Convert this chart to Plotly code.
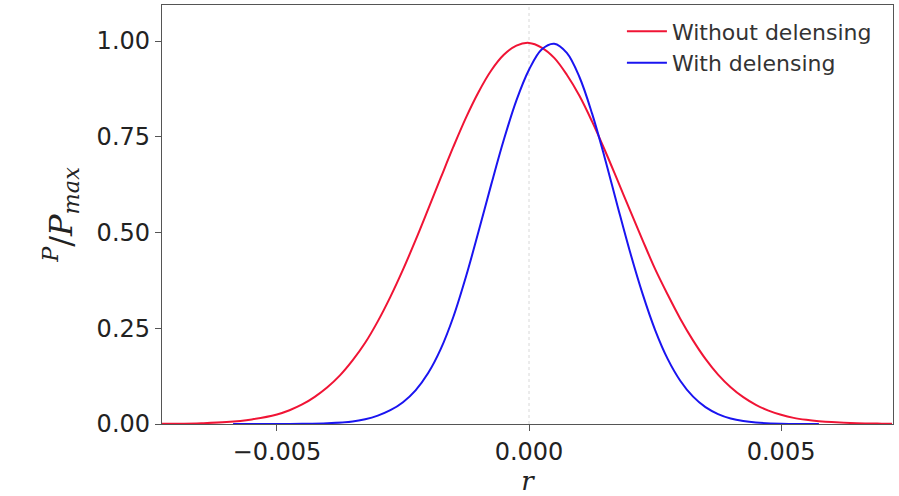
import plotly.graph_objects as go

# Normalised likelihood of the tensor-to-scalar ratio r
r_without = [-0.0073, -0.0070, -0.0065, -0.0060, -0.0055, -0.0050, -0.00475, -0.0045,
             -0.00425, -0.0040, -0.00375, -0.0035, -0.00325, -0.0030, -0.00275, -0.0025,
             -0.00225, -0.0020, -0.00175, -0.0015, -0.00125, -0.0010, -0.00075, -0.0005,
             -0.00025, 0.0000, 0.00025, 0.0005, 0.00075, 0.0010, 0.00125, 0.0015,
             0.00175, 0.0020, 0.00225, 0.0025, 0.00275, 0.0030, 0.00325, 0.0035,
             0.00375, 0.0040, 0.00425, 0.0045, 0.00475, 0.0050, 0.00525, 0.0055,
             0.00575, 0.0060, 0.0065, 0.0070, 0.0072]
p_without = [0.0004, 0.0007, 0.002, 0.005, 0.012, 0.025, 0.036, 0.051,
             0.071, 0.096, 0.127, 0.166, 0.212, 0.268, 0.332, 0.403,
             0.480, 0.561, 0.643, 0.724, 0.800, 0.867, 0.923, 0.964,
             0.988, 0.995, 0.983, 0.956, 0.912, 0.857, 0.790, 0.716,
             0.638, 0.559, 0.481, 0.405, 0.338, 0.275, 0.219, 0.170,
             0.129, 0.096, 0.070, 0.050, 0.035, 0.024, 0.016, 0.011,
             0.0075, 0.005, 0.002, 0.0009, 0.0006]

r_with = [-0.00587, -0.0055, -0.0050, -0.0045, -0.0040, -0.0035, -0.00325, -0.0030,
          -0.00275, -0.0025, -0.00225, -0.0020, -0.00175, -0.0015, -0.00125, -0.0010,
          -0.00075, -0.0005, -0.00025, 0.0000, 0.00025, 0.0005, 0.00075, 0.0010,
          0.00125, 0.0015, 0.00175, 0.0020, 0.00225, 0.0025, 0.00275, 0.0030,
          0.00325, 0.0035, 0.00375, 0.0040, 0.00425, 0.0045, 0.0050, 0.0055, 0.00575]
p_with = [0.0, 0.00002, 0.0001, 0.0005, 0.002, 0.0065, 0.0125, 0.022,
          0.036, 0.057, 0.088, 0.133, 0.196, 0.280, 0.385, 0.503,
          0.625, 0.742, 0.845, 0.925, 0.978, 0.993, 0.969, 0.906,
          0.811, 0.696, 0.572, 0.451, 0.341, 0.246, 0.170, 0.113,
          0.072, 0.044, 0.026, 0.0145, 0.0078, 0.004, 0.0009, 0.0002, 0.0]

x_ticks = [-0.005, 0.0, 0.005]
x_tick_labels = ["\u22120.005", "0.000", "0.005"]
y_ticks = [0.0, 0.25, 0.5, 0.75, 1.0]
y_tick_labels = ["0.00", "0.25", "0.50", "0.75", "1.00"]
x_range = [-0.00728, 0.00722]
y_range = [0.0, 1.094]
ref_r = 0.0

RED = "#f01435"
BLUE = "#1a14f0"
AXIS = "#555555"

fig = go.Figure()
fig.add_trace(go.Scatter(x=r_without, y=p_without, mode="lines", name="Without delensing",
                         line=dict(color=RED, width=2, shape="spline", smoothing=1.0)))
fig.add_trace(go.Scatter(x=r_with, y=p_with, mode="lines", name="With delensing",
                         line=dict(color=BLUE, width=2, shape="spline", smoothing=1.0)))

# faint dotted guide at r = 0
fig.add_shape(type="line", xref="x", yref="paper", x0=ref_r, x1=ref_r, y0=0, y1=1,
              line=dict(color="#d8d8d8", width=1, dash="dot"), layer="below")

fig.update_layout(
    width=899, height=496,
    margin=dict(l=162, r=6, t=4, b=70),
    paper_bgcolor="white", plot_bgcolor="white",
    font=dict(family="DejaVu Sans", color="#222222"),
    showlegend=True,
    legend=dict(x=0.978, y=0.987, xanchor="right", yanchor="top",
                font=dict(size=22, color="#333333"), bgcolor="rgba(255,255,255,0)",
                tracegroupgap=0, itemwidth=40),
)
fig.update_xaxes(range=x_range, tickvals=x_ticks, ticktext=x_tick_labels,
                 ticks="outside", ticklen=6, tickcolor=AXIS, tickwidth=1,
                 showline=True, linecolor=AXIS, linewidth=1.3, mirror=True,
                 showgrid=False, zeroline=False,
                 tickfont=dict(size=24, color="#222222"),
                 title=dict(text="<i>r</i>", font=dict(family="DejaVu Serif", size=26, color="#222222"),
                            standoff=8))
fig.update_yaxes(range=y_range, tickvals=y_ticks, ticktext=y_tick_labels,
                 ticks="outside", ticklen=6, tickcolor=AXIS, tickwidth=1,
                 showline=True, linecolor=AXIS, linewidth=1.3, mirror=True,
                 showgrid=False, zeroline=False,
                 tickfont=dict(size=24, color="#222222"),
                 title=dict(text="<sup><i>P</i></sup>/<i>P</i><sub><i>max</i></sub>",
                            font=dict(family="DejaVu Serif", size=32, color="#222222"),
                            standoff=14))

fig.write_html("out.html")
